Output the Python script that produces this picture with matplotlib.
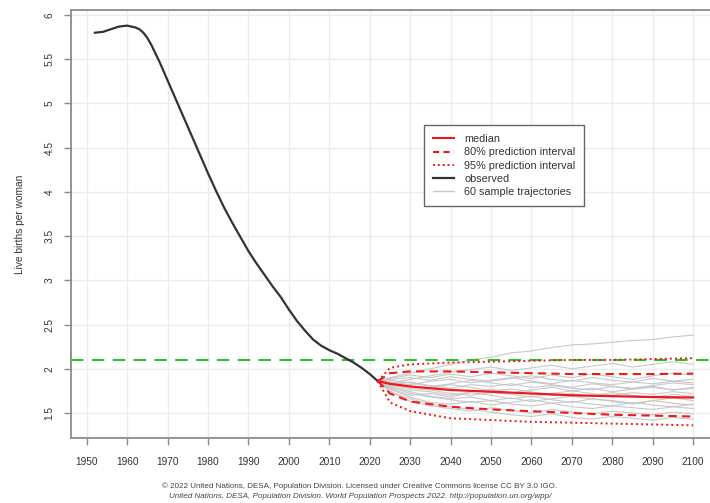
import matplotlib
matplotlib.use("Agg")
import matplotlib.pyplot as plt
from matplotlib.lines import Line2D

plt.rcParams["font.family"] = ["Liberation Sans", "DejaVu Sans"]

# observed total fertility
obs_years = [1952, 1954, 1956, 1958, 1960, 1962, 1963, 1964, 1965, 1966,
             1968, 1970, 1972, 1974, 1976, 1978, 1980, 1982, 1984, 1986,
             1988, 1990, 1992, 1994, 1996, 1998, 2000, 2002, 2004, 2006,
             2008, 2010, 2012, 2014, 2016, 2018, 2020, 2022]
obs_tfr = [5.80, 5.81, 5.84, 5.87, 5.88, 5.86, 5.84, 5.80, 5.74, 5.66,
           5.47, 5.26, 5.05, 4.84, 4.63, 4.42, 4.21, 4.01, 3.82, 3.65,
           3.49, 3.33, 3.19, 3.06, 2.93, 2.81, 2.67, 2.54, 2.43, 2.33,
           2.26, 2.21, 2.17, 2.12, 2.07, 2.01, 1.94, 1.86]

# projections
proj_years = [2022, 2025, 2030, 2040, 2050, 2060, 2070, 2080, 2090, 2100]
median = [1.86, 1.83, 1.80, 1.76, 1.74, 1.72, 1.70, 1.69, 1.68, 1.675]
pi80_low = [1.86, 1.72, 1.63, 1.57, 1.54, 1.52, 1.50, 1.48, 1.47, 1.46]
pi80_high = [1.86, 1.95, 1.97, 1.97, 1.96, 1.95, 1.94, 1.94, 1.94, 1.945]
pi95_low = [1.86, 1.62, 1.52, 1.44, 1.42, 1.40, 1.39, 1.38, 1.37, 1.36]
pi95_high = [1.86, 2.01, 2.05, 2.07, 2.08, 2.09, 2.10, 2.10, 2.11, 2.12]

replacement_level = 2.1

traj_years = [2022, 2025, 2030, 2035, 2040, 2045, 2050, 2055, 2060,
              2065, 2070, 2075, 2080, 2085, 2090, 2095, 2100]
trajectories = [
    [1.86, 1.84, 1.80, 1.78, 1.82, 1.79, 1.75, 1.77, 1.74, 1.70, 1.72, 1.69, 1.73, 1.70, 1.68, 1.71, 1.69],
    [1.86, 1.80, 1.72, 1.68, 1.65, 1.62, 1.64, 1.60, 1.58, 1.61, 1.57, 1.55, 1.58, 1.56, 1.54, 1.57, 1.55],
    [1.86, 1.88, 1.90, 1.87, 1.91, 1.88, 1.86, 1.89, 1.92, 1.88, 1.86, 1.90, 1.87, 1.85, 1.89, 1.86, 1.88],
    [1.86, 1.90, 1.95, 2.00, 2.05, 2.10, 2.13, 2.18, 2.20, 2.24, 2.27, 2.28, 2.30, 2.32, 2.33, 2.36, 2.38],
    [1.86, 1.78, 1.70, 1.72, 1.68, 1.73, 1.70, 1.66, 1.69, 1.65, 1.62, 1.66, 1.63, 1.60, 1.64, 1.61, 1.59],
    [1.86, 1.83, 1.85, 1.81, 1.78, 1.82, 1.80, 1.83, 1.79, 1.81, 1.78, 1.76, 1.80, 1.77, 1.79, 1.76, 1.78],
    [1.86, 1.75, 1.63, 1.58, 1.55, 1.52, 1.56, 1.53, 1.50, 1.54, 1.51, 1.49, 1.52, 1.50, 1.48, 1.51, 1.49],
    [1.86, 1.85, 1.82, 1.86, 1.88, 1.84, 1.87, 1.90, 1.86, 1.83, 1.87, 1.84, 1.82, 1.85, 1.83, 1.86, 1.84],
    [1.86, 1.81, 1.76, 1.74, 1.70, 1.74, 1.77, 1.73, 1.76, 1.79, 1.75, 1.78, 1.74, 1.77, 1.80, 1.76, 1.79],
    [1.86, 1.79, 1.74, 1.69, 1.66, 1.68, 1.64, 1.67, 1.63, 1.66, 1.69, 1.66, 1.64, 1.61, 1.64, 1.67, 1.64],
    [1.86, 1.87, 1.84, 1.80, 1.83, 1.87, 1.84, 1.81, 1.85, 1.82, 1.79, 1.83, 1.80, 1.78, 1.81, 1.84, 1.82],
    [1.86, 1.77, 1.68, 1.62, 1.60, 1.63, 1.59, 1.62, 1.65, 1.61, 1.63, 1.60, 1.58, 1.62, 1.59, 1.57, 1.60],
    [1.86, 1.89, 1.93, 1.90, 1.94, 1.91, 1.95, 1.92, 1.89, 1.93, 1.90, 1.94, 1.91, 1.88, 1.92, 1.95, 1.93],
    [1.86, 1.74, 1.66, 1.60, 1.57, 1.54, 1.51, 1.48, 1.46, 1.49, 1.45, 1.43, 1.46, 1.44, 1.42, 1.45, 1.43],
    [1.86, 1.82, 1.78, 1.76, 1.72, 1.70, 1.73, 1.71, 1.68, 1.72, 1.75, 1.72, 1.70, 1.73, 1.71, 1.74, 1.72],
    [1.86, 1.84, 1.88, 1.92, 1.96, 1.99, 2.02, 1.98, 2.01, 2.04, 2.00, 2.03, 2.06, 2.02, 2.05, 2.08, 2.05],
]

x_ticks = list(range(1950, 2101, 10))
y_ticks = [1.5, 2, 2.5, 3, 3.5, 4, 4.5, 5, 5.5, 6]
y_tick_labels = ["1.5", "2", "2.5", "3", "3.5", "4", "4.5", "5", "5.5", "6"]

legend_labels = ["median", "80% prediction interval", "95% prediction interval",
                 "observed", "60 sample trajectories"]

caption_1 = ("\u00a9 2022 United Nations, DESA, Population Division. "
             "Licensed under Creative Commons license CC BY 3.0 IGO.")
caption_2 = ("United Nations, DESA, Population Division. World Population "
             "Prospects 2022. http://population.un.org/wpp/")

RED = "#f01818"
GRAY_TRAJ = "#c8c8c8"
FRAME = "#8c8c8c"


def main() -> None:
    fig = plt.figure(figsize=(7.10, 5.03), dpi=100)
    ax = fig.add_axes([71 / 710, 65 / 503, 646 / 710, 428 / 503])

    for traj in trajectories:
        ax.plot(traj_years, traj, color=GRAY_TRAJ, lw=0.8, zorder=2)

    ax.axhline(replacement_level, color="#2fc02f", lw=1.5,
               dashes=(6, 4), zorder=3)

    ax.plot(obs_years, obs_tfr, color="#333333", lw=1.6, zorder=4,
            solid_joinstyle="round")

    ax.plot(proj_years, pi95_low, color=RED, lw=1.4, ls=(0, (1, 1.6)), zorder=5)
    ax.plot(proj_years, pi95_high, color=RED, lw=1.4, ls=(0, (1, 1.6)), zorder=5)
    ax.plot(proj_years, pi80_low, color=RED, lw=1.5, ls=(0, (4, 2.5)), zorder=5)
    ax.plot(proj_years, pi80_high, color=RED, lw=1.5, ls=(0, (4, 2.5)), zorder=5)
    ax.plot(proj_years, median, color=RED, lw=1.6, zorder=6)

    ax.set_xlim(1946.1, 2105.9)
    ax.set_ylim(1.217, 6.057)

    ax.set_xticks(x_ticks)
    ax.set_yticks(y_ticks)
    ax.set_yticklabels(y_tick_labels, rotation=90, va="center")
    ax.grid(True, color="#ececec", lw=1.0, zorder=0)
    ax.set_axisbelow(True)

    ax.tick_params(axis="both", direction="out", length=5, width=1,
                   color=FRAME, labelcolor="#333333", labelsize=7.3)
    ax.tick_params(axis="x", pad=9)
    ax.tick_params(axis="y", pad=7)
    for spine in ax.spines.values():
        spine.set_color(FRAME)
        spine.set_linewidth(1.3)

    ax.set_ylabel("Live births per woman", fontsize=7.3, color="#333333",
                  labelpad=14)

    handles = [
        Line2D([], [], color=RED, lw=1.5),
        Line2D([], [], color=RED, lw=1.5, ls=(0, (3, 2))),
        Line2D([], [], color=RED, lw=1.4, ls=(0, (1, 1.5))),
        Line2D([], [], color="#333333", lw=1.6),
        Line2D([], [], color=GRAY_TRAJ, lw=1.0),
    ]
    leg = ax.legend(handles, legend_labels, loc="upper left",
                    bbox_to_anchor=(0.538, 0.743), fontsize=7.8,
                    handlelength=2.0, handletextpad=0.9, labelspacing=0.3,
                    borderpad=0.8, fancybox=False, framealpha=1,
                    edgecolor="#666666")
    leg.get_frame().set_linewidth(1.0)
    for text in leg.get_texts():
        text.set_color("#333333")

    fig.text(360 / 710, 1 - 486 / 503, caption_1, ha="center", va="center",
             fontsize=5.8, color="#444444")
    fig.text(360 / 710, 1 - 496 / 503, caption_2, ha="center", va="center",
             fontsize=5.8, color="#444444", style="italic")

    fig.savefig("out.png", dpi=100)


if __name__ == "__main__":
    main()
